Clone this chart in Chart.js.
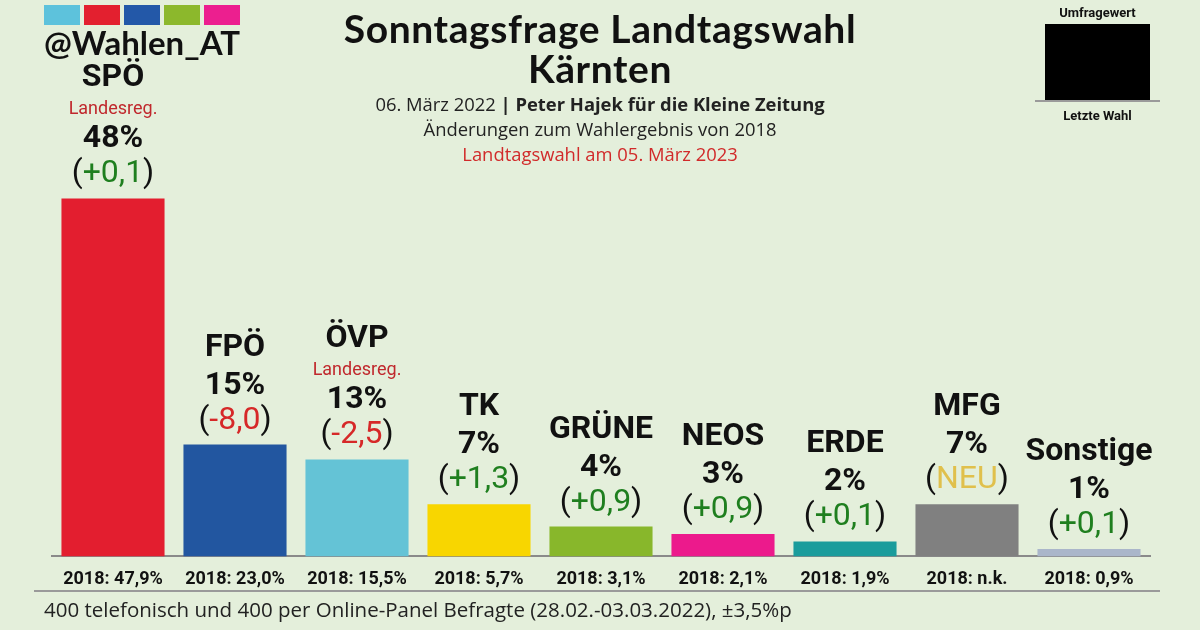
<!DOCTYPE html>
<html lang="de">
<head>
<meta charset="utf-8">
<script src="https://cdn.jsdelivr.net/npm/chart.js@4"></script>
<style>
  html, body { margin: 0; padding: 0; }
  body { width: 1200px; height: 630px; background: #e4efdb; position: relative; overflow: hidden; font-family: "Open Sans", sans-serif; }
  #wrap { position: absolute; left: 0; top: 0; width: 1200px; height: 630px; }
  .abs { position: absolute; white-space: nowrap; }
  #logo { left: 44px; top: 5px; width: 196px; }
  #logo .sq { display: inline-block; width: 36px; height: 20px; margin-right: 4px; }
  #handle { left: 30px; top: 22px; width: 224px; text-align: center; font: bold 33px Lato, sans-serif; color: #111; }
  #title { left: 250px; top: 8px; width: 700px; text-align: center; font: bold 39px/40px Lato, sans-serif; letter-spacing: 0.6px; color: #111; }
  #sub { left: 250px; top: 91px; width: 700px; text-align: center; font: 18.4px/25px "Open Sans", sans-serif; color: #222; }
  #sub b { font-weight: bold; }
  #sub .red { color: #d12a2a; }
  #legend { left: 1035px; top: 5px; width: 125px; text-align: center; font: bold 13px Roboto, sans-serif; color: #111; }
  #legend .box { width: 105px; height: 76px; background: #000; margin: 4px auto 0; }
  #legend .line { height: 2px; background: #9a9a9a; }
  #foot { left: 44px; top: 595px; font: 20.5px "Open Sans", sans-serif; color: #222; }
  #footline { left: 34px; top: 590px; width: 1126px; height: 2px; background: #9a9a9a; }
</style>
</head>
<body>
<div id="wrap"><canvas id="chart" width="1200" height="630"></canvas></div>

<div class="abs" id="logo"><span class="sq" style="background:#5dc2dc"></span><span class="sq" style="background:#e3202f"></span><span class="sq" style="background:#2358a8"></span><span class="sq" style="background:#8cb82c"></span><span class="sq" style="background:#ec1f8f"></span></div>
<div class="abs" id="handle">@Wahlen_AT</div>
<div class="abs" id="title">Sonntagsfrage Landtagswahl<br>Kärnten</div>
<div class="abs" id="sub">06. März 2022 <b>| Peter Hajek für die Kleine Zeitung</b><br>Änderungen zum Wahlergebnis von 2018<br><span class="red">Landtagswahl am 05. März 2023</span></div>
<div class="abs" id="legend">Umfragewert<div class="box"></div><div class="line"></div><div style="margin-top:6px">Letzte Wahl</div></div>
<div class="abs" id="footline"></div>
<div class="abs" id="foot">400 telefonisch und 400 per Online-Panel Befragte (28.02.-03.03.2022), ±3,5%p</div>

<script>
// Umfragedaten
const parteien = ["SPÖ", "FPÖ", "ÖVP", "TK", "GRÜNE", "NEOS", "ERDE", "MFG", "Sonstige"];
const umfrage = [48, 15, 13, 7, 4, 3, 2, 7, 1];
const aenderung = ["+0,1", "-8,0", "-2,5", "+1,3", "+0,9", "+0,9", "+0,1", "NEU", "+0,1"];
const wahl2018 = ["47,9%", "23,0%", "15,5%", "5,7%", "3,1%", "2,1%", "1,9%", "n.k.", "0,9%"];
const landesreg = [true, false, true, false, false, false, false, false, false];
const farben = ["#e31e2f", "#2256a0", "#64c3d6", "#f8d600", "#88b72b", "#ec1a8c", "#1a9c9c", "#808080", "#aab6ca"];

function changeColor(txt) {
  if (txt === "NEU") return "#e0c04c";
  return txt.charAt(0) === "-" ? "#d62828" : "#1f7f1f";
}

// Beschriftung über den Balken
const labelPlugin = {
  id: "barLabels",
  afterDatasetsDraw(chart) {
    const ctx = chart.ctx;
    const meta = chart.getDatasetMeta(0);
    ctx.save();
    ctx.textBaseline = "middle";
    meta.data.forEach((bar, i) => {
      const x = bar.x;
      const top = bar.y;

      // Änderung in Klammern
      const ch = aenderung[i];
      ctx.font = "32px Roboto";
      const wOpen = ctx.measureText("(").width;
      const wInner = ctx.measureText(ch).width;
      const wClose = ctx.measureText(")").width;
      const sx = x - (wOpen + wInner + wClose) / 2;
      const cy = top - 24;
      ctx.textAlign = "left";
      ctx.fillStyle = "#111";
      ctx.fillText("(", sx, cy);
      ctx.fillStyle = changeColor(ch);
      ctx.fillText(ch, sx + wOpen, cy);
      ctx.fillStyle = "#111";
      ctx.fillText(")", sx + wOpen + wInner, cy);
      ctx.textAlign = "center";

      // Prozent
      ctx.font = "bold 32px Roboto";
      ctx.fillStyle = "#111";
      ctx.fillText(umfrage[i] + "%", x, top - 59);

      if (landesreg[i]) {
        ctx.font = "18px Roboto";
        ctx.fillStyle = "#c0282d";
        ctx.fillText("Landesreg.", x, top - 89);
        ctx.font = "bold 32px Roboto";
        ctx.fillStyle = "#111";
        ctx.fillText(parteien[i], x, top - 120);
      } else {
        ctx.font = "bold 32px Roboto";
        ctx.fillStyle = "#111";
        ctx.fillText(parteien[i], x, top - 97);
      }
    });
    ctx.restore();
  }
};

const ctx = document.getElementById("chart").getContext("2d");
new Chart(ctx, {
  type: "bar",
  data: {
    labels: wahl2018.map(v => "2018: " + v),
    datasets: [{
      data: umfrage,
      backgroundColor: farben,
      borderWidth: 0,
      categoryPercentage: 0.845,
      barPercentage: 1.0
    }]
  },
  options: {
    responsive: false,
    animation: false,
    devicePixelRatio: 1,
    layout: { padding: { left: 52, right: 50, top: 109, bottom: 28 } },
    plugins: {
      legend: { display: false },
      tooltip: { enabled: false }
    },
    scales: {
      x: {
        grid: { display: false, drawTicks: false },
        border: { display: true, color: "#8a8a8a", width: 2 },
        ticks: {
          padding: 12,
          color: "#111",
          font: { family: "Roboto", size: 18, weight: "bold" }
        }
      },
      y: {
        display: false,
        min: 0,
        max: 60
      }
    }
  },
  plugins: [labelPlugin]
});
</script>
</body>
</html>
